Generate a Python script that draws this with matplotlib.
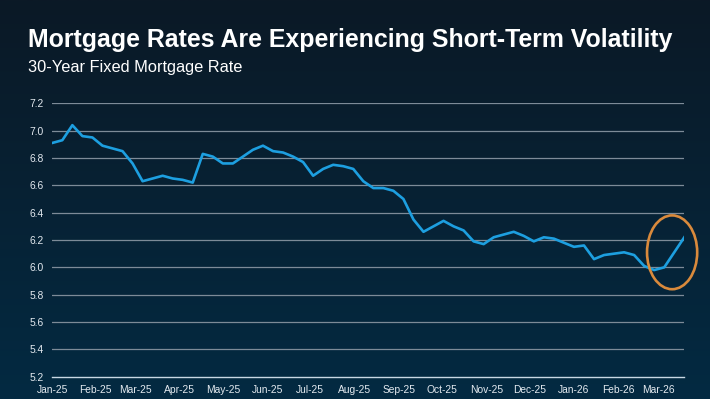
import numpy as np
import pandas as pd
import matplotlib
matplotlib.use("Agg")
import matplotlib.pyplot as plt
import matplotlib.dates as mdates
from matplotlib.patches import Ellipse

# ---- data -------------------------------------------------------------
title = "Mortgage Rates Are Experiencing Short-Term Volatility"
subtitle = "30-Year Fixed Mortgage Rate"
week_dates = pd.date_range("2025-01-02", periods=64, freq="7D")
rates = [6.91, 6.93, 7.04, 6.96, 6.95,
         6.89, 6.87, 6.85, 6.76,
         6.63, 6.65, 6.67, 6.65,
         6.64, 6.62, 6.83, 6.81,
         6.76, 6.76, 6.81, 6.86, 6.89,
         6.85, 6.84, 6.81, 6.77,
         6.67, 6.72, 6.75, 6.74, 6.72,
         6.63, 6.58, 6.58, 6.56,
         6.50, 6.35, 6.26, 6.30,
         6.34, 6.30, 6.27, 6.19, 6.17,
         6.22, 6.24, 6.26, 6.23,
         6.19, 6.22, 6.21, 6.18, 6.15,
         6.16, 6.06, 6.09, 6.10,
         6.11, 6.09, 6.01, 5.98,
         6.00, 6.11, 6.22]
y_ticks = [5.2, 5.4, 5.6, 5.8, 6.0, 6.2, 6.4, 6.6, 6.8, 7.0, 7.2]
x_tick_dates = [pd.Timestamp("2025-01-02")] + list(pd.date_range("2025-02-01", "2026-03-01", freq="MS"))

FONT = ["Liberation Sans", "DejaVu Sans"]
plt.rcParams["font.family"] = FONT

fig = plt.figure(figsize=(7.10, 3.99), dpi=100)

# background gradient
bg = fig.add_axes([0, 0, 1, 1], zorder=-10)
top = np.array([11, 25, 38]) / 255.0
bot = np.array([3, 42, 66]) / 255.0
t = np.linspace(0, 1, 256)[:, None]
grad = top[None, :] * (1 - t) + bot[None, :] * t
bg.imshow(grad[:, None, :], aspect="auto", extent=[0, 1, 0, 1])
bg.set_axis_off()

ax = fig.add_axes([52.3 / 710, (399 - 376.7) / 399, (684.3 - 52.3) / 710, (376.7 - 103.3) / 399])
ax.set_facecolor("none")

ax.plot(week_dates, rates, color="#1d9fe0", lw=1.9, solid_joinstyle="round", zorder=3)

ax.set_ylim(5.2, 7.2)
ax.set_xlim(week_dates[0], week_dates[-1])
ax.set_yticks(y_ticks)
ax.set_yticklabels([f"{v:.1f}" for v in y_ticks])
ax.set_xticks(x_tick_dates)
ax.set_xticklabels([d.strftime("%b-%y") for d in x_tick_dates])

for v in y_ticks[1:]:
    ax.axhline(v, color="#7d8b98", lw=0.9, zorder=1)

for s in ["top", "right", "left"]:
    ax.spines[s].set_visible(False)
ax.spines["bottom"].set_color("#c9d8e4")
ax.spines["bottom"].set_linewidth(1.0)

ax.tick_params(axis="both", length=0, labelsize=7.4, labelcolor="#e3e9ef")
ax.tick_params(axis="y", pad=6.3)
ax.tick_params(axis="x", pad=6.3)

# highlight ellipse around the latest move
cx = mdates.date2num(week_dates[-2]) - 1.5
cy = (min(rates[-3:]) + max(rates[-3:])) / 2
ell = Ellipse((cx, cy), width=35, height=0.54, fill=False,
              edgecolor="#d98a3c", lw=1.9, clip_on=False, zorder=4)
ax.add_patch(ell)

fig.text(28 / 710, 1 - 47 / 399, title, color="white", fontsize=17.9,
         fontweight="bold", ha="left", va="baseline")
fig.text(28 / 710, 1 - 72 / 399, subtitle, color="white", fontsize=11.8,
         ha="left", va="baseline")

fig.savefig("out.png", dpi=100)
